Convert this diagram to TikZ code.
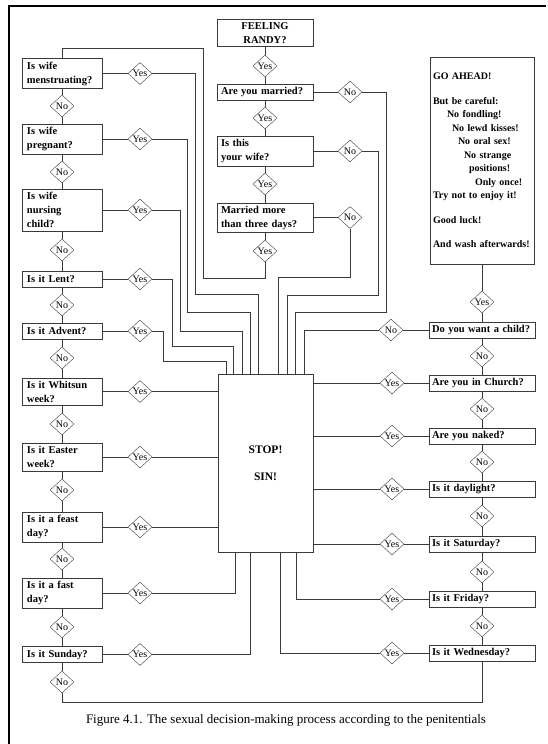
\documentclass[tikz,border=0pt]{standalone}
\usepackage{fontspec}
\setmainfont{Liberation Serif}
\usetikzlibrary{shapes.geometric, positioning, calc}
\definecolor{fcline}{HTML}{3A3A3A}

\begin{document}
\begin{tikzpicture}[
  x=1pt, y=-1pt,
  every node/.style={font=\fontsize{10.5}{14}\selectfont\bfseries},
  query/.style={rectangle, draw=fcline, align=left, inner ysep=3pt, minimum height=16pt},
  lq/.style={query, text width=70pt, inner xsep=5pt},
  tq/.style={query, text width=88pt, inner xsep=4pt},
  rq/.style={query, text width=100pt, inner xsep=3pt},
  answer/.style={diamond, draw=fcline, inner sep=0pt, minimum width=24pt, minimum height=22pt, font=\fontsize{10}{10}\selectfont},
  wire/.style={draw=fcline, line width=0.6pt},
]
\useasboundingbox (0,0) rectangle (548,744);
\draw[line width=1.4pt] (546,6) -- (9,6) -- (9,744);

% Top column
\node[tq, align=center] (randy) at (265,33) {FEELING\\RANDY?};
\node[answer] (yr) at (265,66) {Yes};
\node[tq] (married) at (265,92) {Are you married?};
\node[answer] (y1) at (265,118) {Yes};
\node[tq] (wife) at (265,151) {Is this\\your wife?};
\node[answer] (y2) at (265,184) {Yes};
\node[tq] (three) at (265,217.5) {Married more\\than three days?};
\node[answer] (y3) at (265,251) {Yes};
\node[answer] (nmar) at (350,92) {No};
\node[answer] (nwife) at (350,151) {No};
\node[answer] (nthree) at (350,217.5) {No};

% Left column
\node[lq] (men) at (62,73.5) {Is wife\\menstruating?};
\node[answer] (n1) at (62,106) {No};
\node[lq] (preg) at (62,139) {Is wife\\pregnant?};
\node[answer] (n2) at (62,172) {No};
\node[lq] (nurse) at (62,210) {Is wife\\nursing\\child?};
\node[answer] (n3) at (62,250) {No};
\node[lq] (lent) at (62,279) {Is it Lent?};
\node[answer] (n4) at (62,305) {No};
\node[lq] (advent) at (62,331) {Is it Advent?};
\node[answer] (n5) at (62,358) {No};
\node[lq] (whit) at (62,391.5) {Is it Whitsun\\week?};
\node[answer] (n6) at (62,424) {No};
\node[lq] (easter) at (62,457) {Is it Easter\\week?};
\node[answer] (n7) at (62,490) {No};
\node[lq] (feast) at (62,527) {Is it a feast\\day?};
\node[answer] (n8) at (62,559) {No};
\node[lq] (fast) at (62,593) {Is it a fast\\day?};
\node[answer] (n9) at (62,627) {No};
\node[lq] (sun) at (62,654.5) {Is it Sunday?};
\node[answer] (n10) at (62,682) {No};

\node[answer] (ymen) at (140,73.5) {Yes};
\node[answer] (ypreg) at (140,139) {Yes};
\node[answer] (ynurse) at (140,210) {Yes};
\node[answer] (ylent) at (140,279) {Yes};
\node[answer] (yadv) at (140,331) {Yes};
\node[answer] (ywhit) at (140,391.5) {Yes};
\node[answer] (yeas) at (140,457) {Yes};
\node[answer] (yfeast) at (140,527) {Yes};
\node[answer] (yfast) at (140,593) {Yes};
\node[answer] (ysun) at (140,654.5) {Yes};

% Verdict
\node[query, align=center, minimum width=95pt, minimum height=178pt, font=\fontsize{11.5}{13}\selectfont\bfseries] (stop) at (265.5,463) {STOP!\\[14pt]SIN!};

% Right column
\node[query, anchor=north, text width=98pt, inner xsep=3pt, minimum height=207pt, font=\fontsize{10}{13.5}\selectfont\bfseries] (goahead) at (482,57) {GO AHEAD!\\[11pt]But be careful:\\\hspace*{14pt}No fondling!\\\hspace*{19pt}No lewd kisses!\\\hspace*{25pt}No oral sex!\\\hspace*{31pt}No strange\\\hspace*{36pt}positions!\\\hspace*{42pt}Only once!\\Try not to enjoy it!\\[11pt]Good luck!\\[11pt]And wash afterwards!};
\node[answer] (ygo) at (482,302) {Yes};
\node[rq] (child) at (482,330) {Do you want a child?};
\node[answer] (nc1) at (482,356) {No};
\node[rq] (church) at (482,383) {Are you in Church?};
\node[answer] (nc2) at (482,409) {No};
\node[rq] (naked) at (482,436) {Are you naked?};
\node[answer] (nc3) at (482,462) {No};
\node[rq] (daylight) at (482,489) {Is it daylight?};
\node[answer] (nc4) at (482,516) {No};
\node[rq] (sat) at (482,544) {Is it Saturday?};
\node[answer] (nc5) at (482,572) {No};
\node[rq] (fri) at (482,599) {Is it Friday?};
\node[answer] (nc6) at (482,626) {No};
\node[rq] (wed) at (482,653) {Is it Wednesday?};

\node[answer] (nchild) at (391,330) {No};
\node[answer] (ychurch) at (392,383) {Yes};
\node[answer] (ynaked) at (392,436) {Yes};
\node[answer] (yday) at (392,489) {Yes};
\node[answer] (ysat) at (392,544) {Yes};
\node[answer] (yfri) at (392,599) {Yes};
\node[answer] (ywed) at (392,653) {Yes};

\node[font=\fontsize{13}{15}\selectfont] (cap) at (286,720) {Figure 4.1. The sexual decision-making process according to the penitentials};

% Connectors
\draw[wire] (randy) -- (yr) -- (married) -- (y1) -- (wife) -- (y2) -- (three) -- (y3);
\draw[wire] (married) -- (nmar);
\draw[wire] (wife) -- (nwife);
\draw[wire] (three) -- (nthree);
\draw[wire] (y3.south) -- (265,278) -| (203,48) -| (men.north);
\draw[wire] (nmar.east) -| (386,312) -| ([xshift=77pt]stop.north west);
\draw[wire] (nwife.east) -| (378,295) -| ([xshift=69pt]stop.north west);
\draw[wire] (nthree.south) -- (350,277) -| ([xshift=60pt]stop.north west);

\draw[wire] (men) -- (n1) -- (preg) -- (n2) -- (nurse) -- (n3) -- (lent) -- (n4) -- (advent) -- (n5) -- (whit) -- (n6) -- (easter) -- (n7) -- (feast) -- (n8) -- (fast) -- (n9) -- (sun) -- (n10);
\draw[wire] (men) -- (ymen);
\draw[wire] (preg) -- (ypreg);
\draw[wire] (nurse) -- (ynurse);
\draw[wire] (lent) -- (ylent);
\draw[wire] (advent) -- (yadv);
\draw[wire] (whit) -- (ywhit);
\draw[wire] (easter) -- (yeas);
\draw[wire] (feast) -- (yfeast);
\draw[wire] (fast) -- (yfast);
\draw[wire] (sun) -- (ysun);
\draw[wire] (ymen.east) -| (195,294) -| ([xshift=40pt]stop.north west);
\draw[wire] (ypreg.east) -| (187,312) -| ([xshift=32pt]stop.north west);
\draw[wire] (ynurse.east) -| (180,331) -| ([xshift=24pt]stop.north west);
\draw[wire] (ylent.east) -| (172,346) -| ([xshift=15pt]stop.north west);
\draw[wire] (yadv.east) -| (163,361) -| ([xshift=8pt]stop.north west);
\draw[wire] (ywhit.east) -- (ywhit.east -| stop.west);
\draw[wire] (yeas.east) -- (yeas.east -| stop.west);
\draw[wire] (yfeast.east) -- (yfeast.east -| stop.west);
\draw[wire] (yfast.east) -| ([xshift=17pt]stop.south west);
\draw[wire] (ysun.east) -| ([xshift=32pt]stop.south west);
\draw[wire] (n10.south) |- (482,702) -- (wed.south);

\draw[wire] (wed) -- (nc6) -- (fri) -- (nc5) -- (sat) -- (nc4) -- (daylight) -- (nc3) -- (naked) -- (nc2) -- (church) -- (nc1) -- (child) -- (ygo) -- (goahead);
\draw[wire] (child) -- (nchild);
\draw[wire] (church) -- (ychurch);
\draw[wire] (naked) -- (ynaked);
\draw[wire] (daylight) -- (yday);
\draw[wire] (sat) -- (ysat);
\draw[wire] (fri) -- (yfri);
\draw[wire] (wed) -- (ywed);
\draw[wire] (nchild.west) -| ([xshift=86pt]stop.north west);
\draw[wire] (ychurch.west) -- (ychurch.west -| stop.east);
\draw[wire] (ynaked.west) -- (ynaked.west -| stop.east);
\draw[wire] (yday.west) -- (yday.west -| stop.east);
\draw[wire] (ysat.west) -- (ysat.west -| stop.east);
\draw[wire] (yfri.west) -| ([xshift=78pt]stop.south west);
\draw[wire] (ywed.west) -| ([xshift=62pt]stop.south west);
\end{tikzpicture}
\end{document}
